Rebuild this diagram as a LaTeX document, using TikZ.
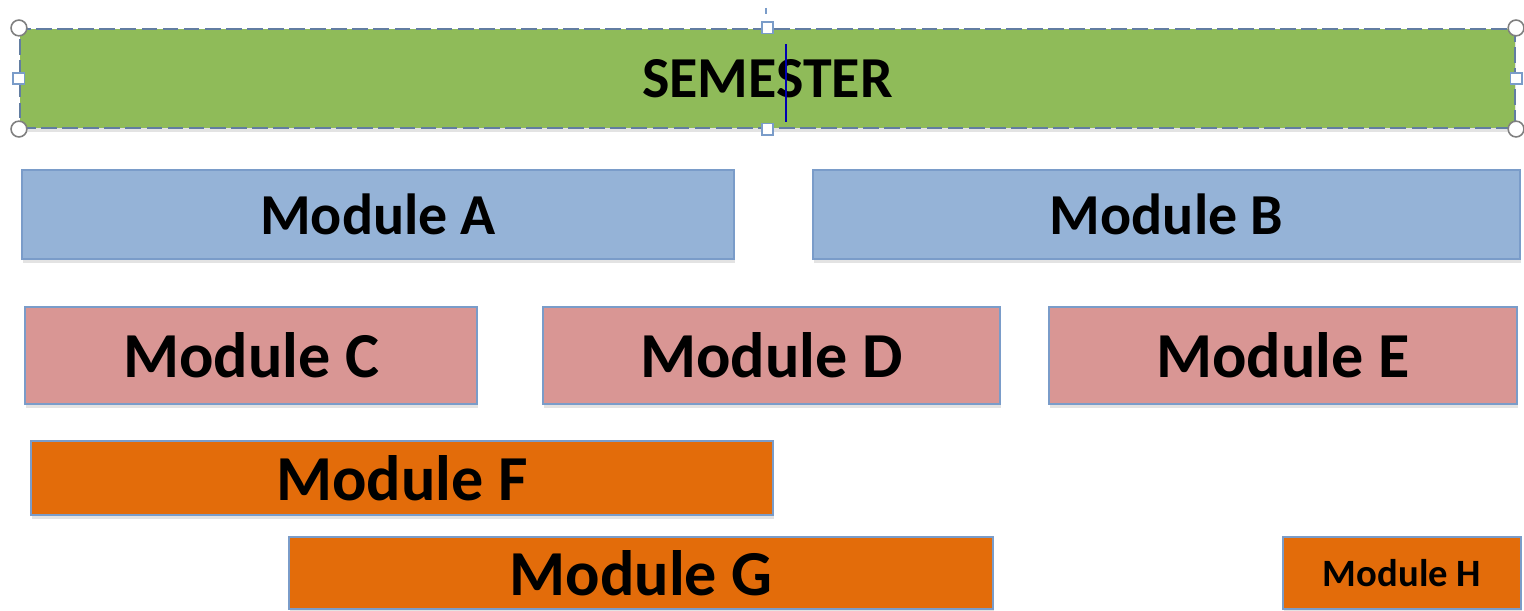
\documentclass[tikz,border=0pt]{standalone}
\usepackage{fontspec}
\setmainfont{Carlito}
\usetikzlibrary{shadows}
\definecolor{smgreen}{HTML}{8FBB59}
\definecolor{smblue}{HTML}{95B3D7}
\definecolor{smpink}{HTML}{D99694}
\definecolor{smorange}{HTML}{E36C0A}
\definecolor{smedge}{HTML}{7A9CC9}
\definecolor{smhandle}{HTML}{7F7F7F}
\begin{document}
\begin{tikzpicture}[
      x=0.02cm, y=-0.02cm,
      modbox/.style={draw=smedge, line width=1.2pt, align=center, inner sep=0pt,
                  drop shadow={shadow xshift=0.6pt, shadow yshift=-2.4pt, opacity=0.22},
                  font=\bfseries\fontsize{36.5}{40}\selectfont},
      semestbox/.style={modbox, fill=smgreen, draw=smedge!80!black, dashed, dash pattern=on 9pt off 3pt,
                  font=\bfseries\fontsize{33}{36}\selectfont},
      bluebox/.style={modbox, fill=smblue, font=\bfseries\fontsize{33}{36}\selectfont},
      pinkbox/.style={modbox, fill=smpink},
      orangebox/.style={modbox, fill=smorange},
      cornerhandle/.style={circle, draw=smhandle, fill=white, line width=0.9pt, minimum size=9pt, inner sep=0pt},
      sidehandle/.style={draw=smedge, fill=white, line width=0.9pt, minimum size=6.5pt, inner sep=0pt}
    ]
    \useasboundingbox (0,0) rectangle (1524,611);
    % semester bar (selected)
    \node[semestbox, minimum width=1495*0.02cm, minimum height=99*0.02cm] (sem) at (767.5,78.5) {SEMESTER};
    % modules
    \node[bluebox, minimum width=712*0.02cm, minimum height=89*0.02cm] (modA) at (378,214.5) {Module A};
    \node[bluebox, minimum width=707*0.02cm, minimum height=89*0.02cm] (modB) at (1166.5,214.5) {Module B};
    \node[pinkbox, minimum width=452*0.02cm, minimum height=97*0.02cm] (modC) at (251,355.5) {Module C};
    \node[pinkbox, minimum width=457*0.02cm, minimum height=97*0.02cm] (modD) at (771.5,355.5) {Module D};
    \node[pinkbox, minimum width=468*0.02cm, minimum height=97*0.02cm] (modE) at (1283,355.5) {Module E};
    \node[orangebox, minimum width=742*0.02cm, minimum height=74*0.02cm] (modF) at (402,478) {Module F};
    \node[orangebox, minimum width=704*0.02cm, minimum height=72*0.02cm] (modG) at (641,573) {Module G};
    \node[orangebox, minimum width=238*0.02cm, minimum height=72*0.02cm,
          font=\bfseries\fontsize{22}{24}\selectfont] (modH) at (1402,573) {Module H};
    % selection handles
    \draw[smedge, line width=1pt] (766,8) -- (766,14);
    \draw[blue!70!black, line width=1.3pt] (786,44) -- (786,122);
    \node[cornerhandle] (hnw) at (sem.north west) {};
    \node[cornerhandle] (hne) at (sem.north east) {};
    \node[cornerhandle] (hsw) at (sem.south west) {};
    \node[cornerhandle] (hse) at (sem.south east) {};
    \node[sidehandle] (hn) at (sem.north) {};
    \node[sidehandle] (hs) at (sem.south) {};
    \node[sidehandle] (hw) at (sem.west) {};
    \node[sidehandle] (he) at (sem.east) {};
\end{tikzpicture}
\end{document}
